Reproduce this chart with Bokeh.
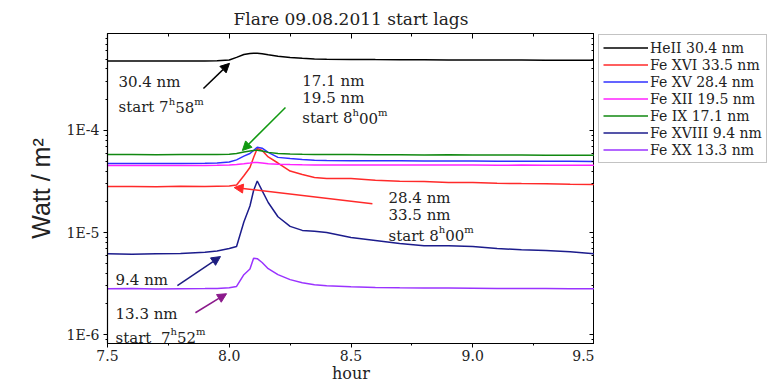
from bokeh.plotting import figure
from bokeh.layouts import row
from bokeh.models import (Range1d, LogAxis, LinearAxis, FixedTicker, NumeralTickFormatter,
                          CustomJSTickFormatter, Legend, LegendItem, Label, Arrow, NormalHead)
from bokeh.embed import file_html
from bokeh.resources import INLINE

# ---- data: irradiance (W/m^2) versus time (hours UT) ----
hours = [7.5, 7.6, 7.7, 7.8, 7.9, 7.95, 8.0, 8.03, 8.06, 8.085, 8.1, 8.115, 8.135, 8.16,
         8.2, 8.25, 8.3, 8.35, 8.4, 8.5, 8.6, 8.7, 8.8, 8.9, 9.0, 9.1, 9.2, 9.3, 9.4, 9.5]

he2_304 = [4.80e-4, 4.78e-4, 4.79e-4, 4.78e-4, 4.80e-4, 4.82e-4, 4.90e-4, 5.20e-4, 5.55e-4, 5.68e-4,
           5.71e-4, 5.70e-4, 5.63e-4, 5.50e-4, 5.32e-4, 5.17e-4, 5.08e-4, 5.02e-4, 4.99e-4, 4.96e-4,
           4.94e-4, 4.93e-4, 4.92e-4, 4.91e-4, 4.90e-4, 4.90e-4, 4.89e-4, 4.88e-4, 4.88e-4, 4.87e-4]

fe16_335 = [2.82e-5, 2.83e-5, 2.81e-5, 2.84e-5, 2.82e-5, 2.84e-5, 2.86e-5, 2.92e-5, 3.60e-5, 4.34e-5,
            5.44e-5, 6.67e-5, 6.37e-5, 5.50e-5, 4.80e-5, 4.00e-5, 3.70e-5, 3.46e-5, 3.38e-5, 3.38e-5,
            3.25e-5, 3.18e-5, 3.16e-5, 3.10e-5, 3.09e-5, 3.04e-5, 3.02e-5, 3.01e-5, 2.97e-5, 2.96e-5]

fe15_284 = [4.75e-5, 4.74e-5, 4.76e-5, 4.75e-5, 4.77e-5, 4.80e-5, 4.90e-5, 5.15e-5, 5.60e-5, 5.95e-5,
            6.37e-5, 6.85e-5, 6.70e-5, 6.09e-5, 5.45e-5, 5.30e-5, 5.20e-5, 5.12e-5, 5.08e-5, 5.06e-5,
            5.05e-5, 5.04e-5, 5.03e-5, 5.02e-5, 5.01e-5, 5.00e-5, 4.99e-5, 4.99e-5, 4.98e-5, 4.97e-5]

fe12_195 = [4.54e-5, 4.55e-5, 4.53e-5, 4.54e-5, 4.55e-5, 4.56e-5, 4.58e-5, 4.63e-5, 4.72e-5, 4.80e-5,
            4.85e-5, 4.86e-5, 4.80e-5, 4.72e-5, 4.66e-5, 4.63e-5, 4.61e-5, 4.60e-5, 4.60e-5, 4.60e-5,
            4.59e-5, 4.60e-5, 4.58e-5, 4.59e-5, 4.58e-5, 4.57e-5, 4.58e-5, 4.57e-5, 4.56e-5, 4.56e-5]

fe9_171 = [5.80e-5, 5.82e-5, 5.79e-5, 5.81e-5, 5.80e-5, 5.82e-5, 5.85e-5, 5.95e-5, 6.15e-5, 6.30e-5,
           6.38e-5, 6.40e-5, 6.30e-5, 6.10e-5, 5.95e-5, 5.88e-5, 5.85e-5, 5.83e-5, 5.82e-5, 5.80e-5,
           5.78e-5, 5.79e-5, 5.76e-5, 5.77e-5, 5.75e-5, 5.74e-5, 5.75e-5, 5.73e-5, 5.72e-5, 5.72e-5]

fe18_94 = [6.20e-6, 6.15e-6, 6.20e-6, 6.25e-6, 6.40e-6, 6.60e-6, 6.97e-6, 7.30e-6, 1.27e-5, 1.82e-5,
           2.58e-5, 3.20e-5, 2.58e-5, 1.97e-5, 1.43e-5, 1.15e-5, 1.05e-5, 1.03e-5, 1.00e-5, 8.93e-6,
           8.35e-6, 7.80e-6, 7.45e-6, 7.45e-6, 7.30e-6, 6.97e-6, 6.80e-6, 6.67e-6, 6.50e-6, 6.20e-6]

fe20_133 = [2.82e-6, 2.83e-6, 2.80e-6, 2.82e-6, 2.83e-6, 2.84e-6, 2.88e-6, 2.97e-6, 3.87e-6, 4.40e-6,
            5.60e-6, 5.55e-6, 5.09e-6, 4.43e-6, 3.87e-6, 3.46e-6, 3.23e-6, 3.09e-6, 3.02e-6, 2.95e-6,
            2.90e-6, 2.88e-6, 2.87e-6, 2.86e-6, 2.85e-6, 2.84e-6, 2.83e-6, 2.83e-6, 2.82e-6, 2.82e-6]

series_names = ["HeII 30.4 nm", "Fe XVI 33.5 nm", "Fe XV 28.4 nm", "Fe XII 19.5 nm",
                "Fe IX 17.1 nm", "Fe XVIII 9.4 nm", "Fe XX 13.3 nm"]
series_values = [he2_304, fe16_335, fe15_284, fe12_195, fe9_171, fe18_94, fe20_133]
series_colors = ["#000000", "#ff2a2a", "#3030ff", "#ff22ff", "#118811", "#1c1c8c", "#9a33ff"]

x_ticks = [7.5, 8.0, 8.5, 9.0, 9.5]
x_minor_ticks = [7.75, 8.25, 8.75, 9.25]
y_ticks = [1e-6, 1e-5, 1e-4]
y_tick_labels = ["1E-6", "1E-5", "1E-4"]
y_minor_ticks = [m * 10.0 ** e for e in (-7, -6, -5, -4) for m in range(2, 10)]

SERIF = "DejaVu Serif"
TEXT = "#222222"

p = figure(width=594, height=385, y_axis_type="log",
           x_range=Range1d(7.5, 9.5), y_range=Range1d(8.2e-7, 8.9e-4),
           output_backend="svg", toolbar_location=None,
           min_border_left=107, min_border_right=0, min_border_top=33, min_border_bottom=42,
           title="Flare 09.08.2011 start lags")
p.grid.visible = False
p.outline_line_color = "black"
p.background_fill_color = "white"
p.border_fill_color = "white"

p.title.text_font = SERIF
p.title.text_font_size = "17px"
p.title.text_font_style = "normal"
p.title.text_color = TEXT
p.title.align = "center"

xt = FixedTicker(ticks=x_ticks, minor_ticks=x_minor_ticks)
yt = FixedTicker(ticks=y_ticks, minor_ticks=y_minor_ticks)
y_fmt = CustomJSTickFormatter(args=dict(vals=y_ticks, labs=y_tick_labels), code="""
    const i = vals.findIndex(v => Math.abs(Math.log10(v) - Math.log10(tick)) < 1e-6);
    return i >= 0 ? labs[i] : '';
""")

xa = p.xaxis[0]
xa.ticker = xt
xa.formatter = NumeralTickFormatter(format="0.0")
xa.axis_label = "hour"
ya = p.yaxis[0]
ya.ticker = yt
ya.formatter = y_fmt
ya.axis_label = "Watt / m²"

for ax in (xa, ya):
    ax.major_tick_out = 4
    ax.major_tick_in = 0
    ax.minor_tick_out = 2
    ax.minor_tick_in = 0
    ax.axis_line_width = 1.2
    ax.major_label_text_font = SERIF
    ax.major_label_text_font_size = "14px"
    ax.major_label_text_color = TEXT
    ax.axis_label_text_font_style = "normal"
    ax.axis_label_text_color = TEXT

xa.major_label_standoff = 2
xa.axis_label_text_font = SERIF
xa.axis_label_text_font_size = "16px"
xa.axis_label_standoff = 0
ya.major_label_standoff = 4
ya.axis_label_text_font = "Liberation Sans"
ya.axis_label_text_font_size = "25px"
ya.axis_label_standoff = 8

# mirrored tick marks on the top and right edges of the frame
blank = CustomJSTickFormatter(code="return '';")
top = LinearAxis(ticker=xt, formatter=blank, major_label_text_font_size="0px",
                 major_label_standoff=0, major_tick_in=5, major_tick_out=0,
                 minor_tick_in=3, minor_tick_out=0, axis_line_width=1.2)
right = LogAxis(ticker=yt, formatter=blank, major_label_text_font_size="0px",
                major_label_standoff=0, major_tick_in=5, major_tick_out=0,
                minor_tick_in=3, minor_tick_out=0, axis_line_width=1.2)
p.add_layout(top, "above")
p.add_layout(right, "right")

for vals, col in zip(series_values, series_colors):
    p.line(hours, vals, line_color=col, line_width=1.5)

# approximate DejaVu Serif advance widths (em) for laying out superscripts
ADV = {c: 0.636 for c in "0123456789"}
ADV.update({".": 0.318, " ": 0.318, "\u00a0": 0.318, "s": 0.521, "t": 0.402, "a": 0.596,
            "r": 0.478, "n": 0.644, "m": 0.947, "h": 0.644})


def text_width(s, size):
    return sum(ADV.get(c, 0.6) for c in s) * size


def add_text(x, y, s, size=15):
    p.add_layout(Label(x=x, y=y, text=s, text_font=SERIF, text_font_size=f"{size}px",
                       text_color=TEXT, text_baseline="alphabetic"))


def add_start(x, y, lead, hh, mm, size=15, sup=10):
    """'start 7^h58^m' built from base text and raised unit letters."""
    pieces = [(lead, size, 0), (hh, sup, 6), (mm, size, 0), ("m", sup, 6)]
    dx = 0.0
    for txt, sz, dy in pieces:
        p.add_layout(Label(x=x, y=y, x_offset=dx, y_offset=dy, text=txt, text_font=SERIF,
                           text_font_size=f"{sz}px", text_color=TEXT,
                           text_baseline="alphabetic"))
        dx += text_width(txt, sz)


add_text(7.545, 2.96e-4, "30.4 nm")
add_start(7.545, 1.68e-4, "start 7", "h", "58")
add_text(8.30, 3.02e-4, "17.1 nm")
add_text(8.30, 2.06e-4, "19.5 nm")
add_start(8.30, 1.31e-4, "start 8", "h", "00")
add_text(8.654, 2.2e-5, "28.4 nm")
add_text(8.654, 1.5e-5, "33.5 nm")
add_start(8.654, 9.35e-6, "start 8", "h", "00")
add_text(7.533, 3.46e-6, "9.4 nm")
add_text(7.533, 1.61e-6, "13.3 nm")
add_start(7.533, 9.35e-7, "start \u00a07", "h", "52")


def add_arrow(x0, y0, x1, y1, col):
    p.add_layout(Arrow(end=NormalHead(size=9, fill_color=col, line_color=col),
                       x_start=x0, y_start=y0, x_end=x1, y_end=y1,
                       line_color=col, line_width=1.5))


add_arrow(7.894, 2.58e-4, 8.001, 4.54e-4, "#000000")
add_arrow(8.231, 1.68e-4, 8.054, 6.37e-5, "#119911")
add_arrow(8.588, 1.92e-5, 8.020, 2.76e-5, "#ff2a2a")
add_arrow(7.787, 3.02e-6, 7.964, 5.82e-6, "#1c1c80")
add_arrow(7.861, 1.64e-6, 7.989, 2.52e-6, "#8b1a8b")

# ---- key panel to the right of the plot ----
# the series are repeated here only so the legend has renderers; the key's ranges
# keep the lines themselves out of view
key = figure(width=177, height=385, x_range=Range1d(0, 1), y_range=Range1d(0, 1),
             x_axis_location=None, y_axis_location=None,
             output_backend="svg", toolbar_location=None,
             min_border=0, outline_line_color=None)
key.grid.visible = False
items = []
for name, vals, col in zip(series_names, series_values, series_colors):
    r = key.line(hours, vals, line_color=col, line_width=1.5)
    items.append(LegendItem(label=name, renderers=[r]))

legend = Legend(items=items, location=(4, 180), glyph_width=45, glyph_height=17,
                label_height=17, spacing=0, padding=4, margin=0, label_standoff=2,
                label_text_font=SERIF, label_text_font_size="14px", label_text_color=TEXT,
                border_line_color="#888888", border_line_width=1,
                background_fill_color="white")
key.add_layout(legend, "center")

layout = row(p, key, spacing=0)
open("out.html", "w").write(file_html(layout, INLINE))
